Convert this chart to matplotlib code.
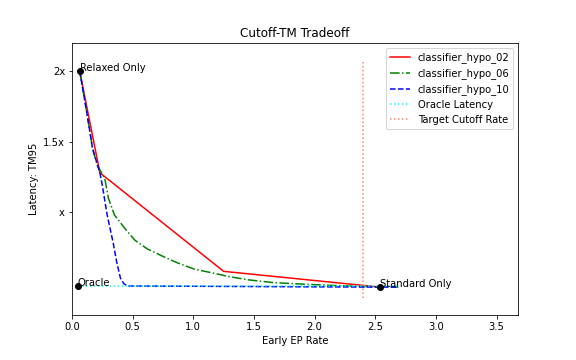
import matplotlib
matplotlib.use("Agg")
import matplotlib.pyplot as plt

# Data (latency expressed in units of the "x" tick)
hypo02_x = [0.064, 0.23, 1.25, 2.54]
hypo02_y = [2.0, 1.28, 0.58, 0.468]

hypo06_x = [0.064, 0.12, 0.17, 0.21, 0.25, 0.27, 0.30, 0.35, 0.44, 0.52, 0.62, 0.74, 0.87, 1.01, 1.18, 1.28, 1.45, 1.66, 2.0, 2.4, 2.69]
hypo06_y = [2.0, 1.72, 1.45, 1.33, 1.27, 1.24, 1.10, 0.98, 0.88, 0.80, 0.74, 0.69, 0.64, 0.595, 0.565, 0.545, 0.52, 0.50, 0.485, 0.472, 0.468]

hypo10_x = [0.064, 0.12, 0.17, 0.23, 0.25, 0.29, 0.34, 0.37, 0.40, 0.43, 0.46, 1.0, 2.0, 2.69]
hypo10_y = [2.0, 1.72, 1.45, 1.28, 1.19, 0.98, 0.78, 0.64, 0.53, 0.49, 0.476, 0.474, 0.470, 0.468]

oracle_y = 0.475
oracle_xrange = [0.047, 2.69]
target_x = 2.4
target_yrange = [0.39, 2.065]

points = {"Relaxed Only": (0.064, 2.0), "Oracle": (0.047, 0.475), "Standard Only": (2.54, 0.468)}

ytick_vals = [1.0, 1.5, 2.0]
ytick_labels = ["x", "1.5x", "2x"]

fig = plt.figure(figsize=(8, 5), dpi=72)
ax = fig.add_subplot(111)
fig.subplots_adjust(left=0.125, right=0.9, top=0.88, bottom=0.125)

ax.plot(hypo02_x, hypo02_y, color="red", linestyle="-", label="classifier_hypo_02")
ax.plot(hypo06_x, hypo06_y, color="green", linestyle="-.", label="classifier_hypo_06")
ax.plot(hypo10_x, hypo10_y, color="blue", linestyle="--", label="classifier_hypo_10")
ax.hlines(oracle_y, oracle_xrange[0], oracle_xrange[1], colors="cyan", linestyles=":", label="Oracle Latency")
ax.vlines(target_x, target_yrange[0], target_yrange[1], colors="salmon", linestyles=":", label="Target Cutoff Rate")

for name, (px, py) in points.items():
    ax.scatter([px], [py], color="black", zorder=5)
    ax.text(px, py, name, fontsize=10)

ax.set_xlim(0, 3.68)
ax.set_ylim(0.27, 2.2)
ax.set_yticks(ytick_vals)
ax.set_yticklabels(ytick_labels)
ax.set_title("Cutoff-TM Tradeoff")
ax.set_xlabel("Early EP Rate")
ax.set_ylabel("Latency: TM95")
ax.legend(loc="upper right")

fig.savefig("out.png", dpi=72)
